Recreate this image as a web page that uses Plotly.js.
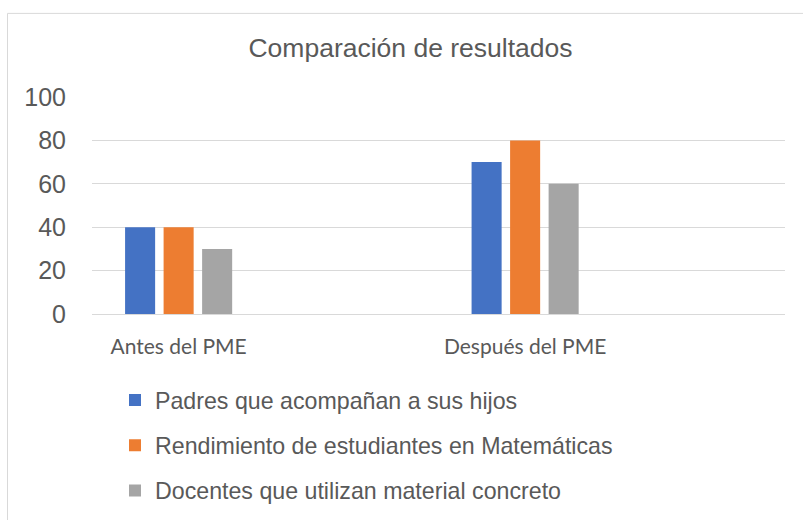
<!DOCTYPE html>
<html>
<head>
<meta charset="utf-8">
<script src="https://cdn.plot.ly/plotly-3.0.1.min.js"></script>
<style>html,body{margin:0;padding:0;background:#fff;}#chart{width:803px;height:520px;}</style>
</head>
<body>
<div id="chart"></div>
<script>
// Categories (the source sheet had two empty rows between/after the periods)
const categories = ["Antes del PME", "_vacío1", "Después del PME", "_vacío2"];
const tickLabels = ["Antes del PME", "", "Después del PME", ""];
const seriesNames = [
  "Padres que acompañan a sus hijos",
  "Rendimiento de estudiantes en Matemáticas",
  "Docentes que utilizan material concreto"
];
const padres = [40, null, 70, null];
const rendimiento = [40, null, 80, null];
const docentes = [30, null, 60, null];
const yTicks = [0, 20, 40, 60, 80, 100];

const colors = ["#4472C4", "#ED7D31", "#A5A5A5"];
const seriesValues = [padres, rendimiento, docentes];

const traces = seriesValues.map((vals, i) => ({
  type: "bar",
  name: seriesNames[i],
  x: categories,
  y: vals,
  marker: {color: colors[i]},
  legendgroup: "g" + i,
  hoverinfo: "skip"
}));

const layout = {
  width: 803, height: 520,
  paper_bgcolor: "#ffffff", plot_bgcolor: "#ffffff",
  margin: {l: 92, r: 18, t: 96.5, b: 205.5, pad: 0, autoexpand: false},
  title: {
    text: "Comparación de resultados",
    font: {family: "Liberation Sans, Arial, sans-serif", size: 26.5, color: "#595959"},
    xref: "container", yref: "container",
    x: 410.5 / 803, y: 1 - 48 / 520, xanchor: "center", yanchor: "middle"
  },
  barmode: "group",
  bargap: 0.333,
  bargroupgap: 0.22,
  showlegend: true,
  legend: {
    xref: "container", yref: "container",
    x: 115 / 803, y: 1 - 378.5 / 520, xanchor: "left", yanchor: "top",
    orientation: "v",
    traceorder: "grouped",
    tracegroupgap: 12,
    font: {family: "Liberation Sans, Arial, sans-serif", size: 23.2, color: "#595959"},
    bgcolor: "rgba(0,0,0,0)", borderwidth: 0
  },
  xaxis: {
    type: "category",
    categoryorder: "array",
    categoryarray: categories,
    tickvals: categories,
    ticktext: tickLabels,
    tickangle: 0,
    showgrid: false,
    zeroline: false,
    showline: false,
    ticks: "outside", ticklen: 14, tickcolor: "rgba(0,0,0,0)",
    tickfont: {family: "Lato, sans-serif", size: 21, color: "#595959"},
    fixedrange: true
  },
  yaxis: {
    range: [0, 100],
    tickvals: yTicks,
    showgrid: true, gridcolor: "#D9D9D9", gridwidth: 1,
    zeroline: true, zerolinecolor: "#D9D9D9", zerolinewidth: 1,
    showline: false,
    ticks: "outside", ticklen: 20, tickcolor: "rgba(0,0,0,0)",
    tickfont: {family: "Liberation Sans, Arial, sans-serif", size: 25, color: "#595959"},
    fixedrange: true
  },
  shapes: [{
    type: "rect", xref: "paper", yref: "paper",
    x0: (7.5 - 92) / 693, x1: (812 - 92) / 693,
    y0: (314.5 - 530) / 218, y1: (314.5 - 12.5) / 218,
    line: {color: "#D9D9D9", width: 1}, fillcolor: "rgba(0,0,0,0)", layer: "below"
  }]
};

Plotly.newPlot("chart", traces, layout, {displayModeBar: false, staticPlot: true});
</script>
</body>
</html>
